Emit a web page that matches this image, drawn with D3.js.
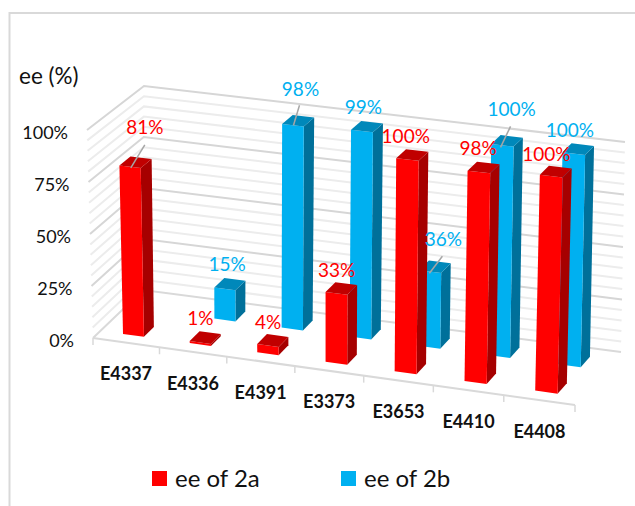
<!DOCTYPE html>
<html>
<head>
<meta charset="utf-8">
<script src="https://cdn.jsdelivr.net/npm/d3@7"></script>
<style>
  html, body { margin: 0; padding: 0; background: #fff; }
  text { font-family: Lato, "Open Sans", sans-serif; }
</style>
</head>
<body>
<svg id="chart" width="635" height="506"></svg>
<script>
// data
const categories = ["E4337", "E4336", "E4391", "E3373", "E3653", "E4410", "E4408"];
const seriesNames = ["ee of 2a", "ee of 2b"];
const valuesA = [81, 1, 4, 33, 100, 98, 100];
const valuesB = [null, 15, 98, 99, 36, 100, 100];
const yTicks = [0, 25, 50, 75, 100];
const yMinorTicks = [5, 10, 15, 20, 30, 35, 40, 45, 55, 60, 65, 70, 80, 85, 90, 95];

const colorsA = { front: "#ff0000", side: "#a60000", top: "#c00000" };
const colorsB = { front: "#00b0f0", side: "#00709a", top: "#0088ba" };

const svg = d3.select("#chart");
const width = 635, height = 506;

// the eight corners of the 3D box as they land on the page
const corners = {
  fbl: [93, 338], fbr: [575, 405], bbl: [143, 290], bbr: [621, 352],
  ftl: [87, 130], ftr: [581, 187], btl: [144, 86], btr: [625, 142]
};
const perspective = 0.04; // the categories bunch up a little on the left

const u = d3.scaleBand().domain(categories).range([0, 1]).paddingInner(0.685).paddingOuter(0.34);
const v = d3.scaleBand().domain(seriesNames).range([0, 1]).paddingInner(0.6).paddingOuter(0.3);
const w = d3.scaleLinear().domain([0, 100]).range([0, 1]);

// trilinear mapping of chart coords to the page
function project(a, b, c) {
  const mix = d3.interpolateNumber;
  const a2 = a * (1 - perspective * (1 - a));
  const out = [0, 1].map(i => {
    const bottom = mix(mix(corners.fbl[i], corners.fbr[i])(a2), mix(corners.bbl[i], corners.bbr[i])(a2))(b);
    const top = mix(mix(corners.ftl[i], corners.ftr[i])(a2), mix(corners.btl[i], corners.btr[i])(a2))(b);
    return mix(bottom, top)(c);
  });
  return out;
}

const poly = d3.line();

// frame
svg.append("path")
  .attr("d", poly([[9.5, 506], [9.5, 13], [635, 13]]))
  .attr("fill", "none")
  .attr("stroke", "#d9d9d9")
  .attr("stroke-width", 2);

// grid: minor lines first, then the 25% ones
function drawGrid(ticks, color, lw) {
  svg.append("g").selectAll("path")
    .data(ticks)
    .join("path")
    .attr("d", t => poly([project(0, 0, w(t)), project(0, 1, w(t)), project(1, 1, w(t))]))
    .attr("fill", "none")
    .attr("stroke", color)
    .attr("stroke-width", lw);
}
drawGrid(yMinorTicks, "#ececec", 2);
drawGrid(yTicks.filter(t => t > 0), "#d6d6d6", 2);

// floor
svg.append("path")
  .attr("d", poly([project(1, 1, 0), project(0, 1, 0), project(0, 0, 0)]))
  .attr("fill", "none").attr("stroke", "#d9d9d9").attr("stroke-width", 2);
svg.append("path")
  .attr("d", poly([project(0, 0, 0), project(1, 0, 0)]))
  .attr("fill", "none").attr("stroke", "#d9d9d9").attr("stroke-width", 2);

// tick marks on the front floor edge
svg.append("g").selectAll("path")
  .data(d3.range(categories.length + 1))
  .join("path")
  .attr("d", i => {
    const p = project(i / categories.length, 0, 0);
    return poly([p, [p[0], p[1] + 7]]);
  })
  .attr("stroke", "#d9d9d9")
  .attr("stroke-width", 1.5);

// bars, back row first
function drawBars(name, values, colors) {
  const rows = categories.map((c, i) => ({ c: c, value: values[i] })).filter(d => d.value !== null);
  const u0 = d => u(d.c);
  const u1 = d => u(d.c) + u.bandwidth();
  const v0 = v(name);
  const v1 = v(name) + v.bandwidth();
  const g = svg.append("g");

  g.selectAll(".side").data(rows).join("path")
    .attr("class", "side")
    .attr("fill", colors.side)
    .attr("d", d => poly([project(u1(d), v0, 0), project(u1(d), v1, 0), project(u1(d), v1, w(d.value)), project(u1(d), v0, w(d.value))]) + "Z");

  g.selectAll(".front").data(rows).join("path")
    .attr("class", "front")
    .attr("fill", colors.front)
    .attr("d", d => poly([project(u0(d), v0, 0), project(u1(d), v0, 0), project(u1(d), v0, w(d.value)), project(u0(d), v0, w(d.value))]) + "Z");

  g.selectAll(".top").data(rows).join("path")
    .attr("class", "top")
    .attr("fill", colors.top)
    .attr("d", d => poly([project(u0(d), v0, w(d.value)), project(u1(d), v0, w(d.value)), project(u1(d), v1, w(d.value)), project(u0(d), v1, w(d.value))]) + "Z");
}
drawBars(seriesNames[1], valuesB, colorsB);
drawBars(seriesNames[0], valuesA, colorsA);

// y axis labels
svg.append("g").selectAll("text")
  .data(yTicks)
  .join("text")
  .attr("x", t => project(0, 0, w(t))[0] - 19)
  .attr("y", t => project(0, 0, w(t))[1] + 4)
  .attr("text-anchor", "end")
  .attr("dominant-baseline", "middle")
  .attr("font-size", 18)
  .attr("fill", "#111")
  .text(t => t + "%");

svg.append("text")
  .attr("x", 19).attr("y", 84)
  .attr("font-size", 22.5)
  .attr("fill", "#111")
  .text("ee (%)");

// category labels
svg.append("g").selectAll("text")
  .data(categories)
  .join("text")
  .attr("x", c => project(u(c) + u.bandwidth() / 2, 0, 0)[0])
  .attr("y", c => project(u(c) + u.bandwidth() / 2, 0, 0)[1] + 33)
  .attr("text-anchor", "middle")
  .attr("dominant-baseline", "middle")
  .attr("font-size", 18)
  .attr("font-weight", 700)
  .attr("fill", "#111")
  .text(c => c);

// value labels, placed by hand in the original so shifted from each bar top
const labelShiftA = [[5, -34], [-9, -18], [-9, -17], [-9, -17], [-11, -17], [-10, -18], [-14, -16]];
const labelShiftB = [null, [-7, -19], [-2, -30], [-8, -18], [4, -26], [0, -30], [-13, -17]];
const leaderA = [[[5, -18], [-9, 5]], null, null, null, null, null, null];
const leaderB = [null, null, [[-3, -16], [-9, 4]], null, [[3, -11], [-10, 6]], [[-1, -15], [-11, 6]], null];

function drawLabels(name, values, color, shifts, leaders) {
  const rows = categories.map((c, i) => ({ c: c, value: values[i], shift: shifts[i], leader: leaders[i] })).filter(d => d.value !== null);
  const anchor = d => project(u(d.c) + u.bandwidth() * 0.7, v(name) + v.bandwidth() / 2, w(d.value));
  const g = svg.append("g");

  g.selectAll("path").data(rows.filter(d => d.leader)).join("path")
    .attr("d", d => {
      const p = anchor(d);
      return poly(d.leader.map(o => [p[0] + o[0], p[1] + o[1]]));
    })
    .attr("stroke", "#a6a6a6")
    .attr("stroke-width", 1.5);

  g.selectAll("text").data(rows).join("text")
    .attr("x", d => anchor(d)[0] + d.shift[0])
    .attr("y", d => anchor(d)[1] + d.shift[1])
    .attr("text-anchor", "middle")
    .attr("dominant-baseline", "middle")
    .attr("font-size", 19)
    .attr("fill", color)
    .text(d => d.value + "%");
}
drawLabels(seriesNames[1], valuesB, colorsB.front, labelShiftB, leaderB);
drawLabels(seriesNames[0], valuesA, colorsA.front, labelShiftA, leaderA);

// legend
const legendX = d3.scaleOrdinal().domain(seriesNames).range([152, 341]);
const legendColor = d3.scaleOrdinal().domain(seriesNames).range([colorsA.front, colorsB.front]);
const legend = svg.append("g").selectAll("g").data(seriesNames).join("g");
legend.append("rect")
  .attr("x", d => legendX(d)).attr("y", 471)
  .attr("width", 15).attr("height", 15)
  .attr("fill", d => legendColor(d));
legend.append("text")
  .attr("x", d => legendX(d) + 23).attr("y", 487)
  .attr("font-size", 24)
  .attr("fill", "#111")
  .text(d => d);
</script>
</body>
</html>
